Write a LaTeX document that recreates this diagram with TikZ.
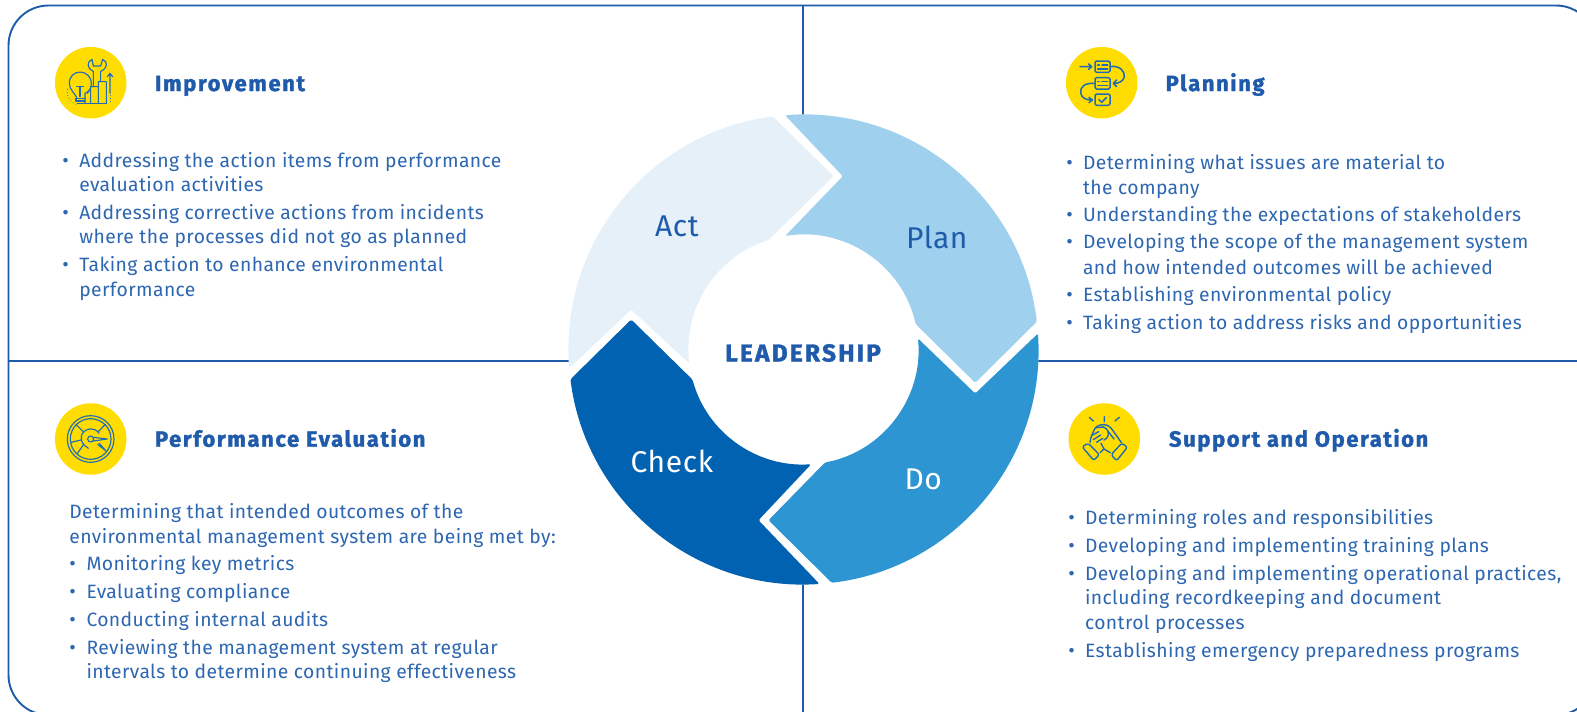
\documentclass[tikz,border=0pt]{standalone}
\usepackage{fontspec}
\setmainfont{Fira Sans}[LetterSpace=2.1,BoldFeatures={LetterSpace=7.2,FakeBold=1.5}]
\newfontfamily\leadf{Fira Sans}[LetterSpace=9,BoldFeatures={LetterSpace=9,FakeBold=1.5}]
\definecolor{tblue}{HTML}{2D66B1}
\definecolor{hblue}{HTML}{1F5BAA}
\definecolor{lineblue}{HTML}{1E5BAA}
\definecolor{iconblue}{HTML}{1F6CB4}
\definecolor{badgey}{HTML}{FFDD00}
\definecolor{actc}{HTML}{E6F0F8}
\definecolor{planc}{HTML}{9FD0ED}
\definecolor{doc}{HTML}{2E95D3}
\definecolor{checkc}{HTML}{0262B2}
\newcounter{tl}
\tikzset{
 txt/.style={anchor=base west,inner sep=0pt,outer sep=0pt,yshift=-0.7pt,text=tblue,font=\fontsize{19.3}{22}\selectfont},
 bul/.style={anchor=base,inner sep=0pt,outer sep=0pt,yshift=-0.7pt,text=tblue,font=\fontsize{20}{22}\selectfont},
 head/.style={anchor=base west,inner sep=0pt,outer sep=0pt,text=hblue,font=\fontsize{22}{24}\selectfont\bfseries},
 ringlab/.style={anchor=base west,inner sep=0pt,outer sep=0pt,yshift=-1.5pt,font=\fontsize{30}{32}\selectfont},
 badge/.style={circle,fill=badgey,draw=none,minimum size=71.5pt,inner sep=0pt},
 rule/.style={draw=lineblue,line width=1.9pt},
 ico/.style={draw=iconblue,line width=1.15pt,line cap=round,line join=round},
 icodot/.style={draw=iconblue,line width=1pt,line cap=round,dash pattern=on 0.1pt off 3pt},
 seg/.style={rounded corners=1.5pt},
}
\newcommand{\tline}[3]{\stepcounter{tl}\node[txt] (t\thetl) at (#1,#2) {#3};}
\newcommand{\bdot}[2]{\stepcounter{tl}\node[bul] (t\thetl) at (#1,#2) {•};}
\begin{document}
\begin{tikzpicture}[x=1pt,y=-1pt]
\useasboundingbox (0,0) rectangle (1577,712);
\clip (0,0) rectangle (1577,712);
\fill[white] (0,0) rectangle (1577,712);
% frame
\draw[rule,rounded corners=40pt] (8.5,5.5) rectangle (1596,715);
\draw[rule] (8.5,360.7) -- (1590,360.7);
\draw[rule] (803.3,5.5) -- (803.3,712);
% ring
\begin{scope}[shift={(803.5,349.5)},x=1pt,y=1pt]
\fill[white] (0,0) circle[radius=235pt];
\fill[actc,seg] (97.5:235) arc[start angle=97.5,end angle=184.6,radius=235pt] -- (-172.3,40) -- (187:115) arc[start angle=187,end angle=107.7,radius=115pt] -- (30,173.3) -- cycle;
\fill[planc,seg] (94.5:235) arc[start angle=94.5,end angle=6.8,radius=235pt] -- (171.7,-33.3) -- (12.8:115) arc[start angle=12.8,end angle=99.2,radius=115pt] -- (39.3,173.3) -- cycle;
\fill[doc,seg] (3.9:235) arc[start angle=3.9,end angle=-83.1,radius=235pt] -- (-35,-170.7) -- (-79.2:115) arc[start angle=-79.2,end angle=5.5,radius=115pt] -- (171.7,-44) -- cycle;
\fill[checkc,seg] (187.3:235) arc[start angle=187.3,end angle=273.9,radius=235pt] -- (-45,-170.7) -- (273.8:115) arc[start angle=273.8,end angle=195.2,radius=115pt] -- (-172.3,30) -- cycle;
\end{scope}
\node[ringlab,text=hblue] (act) at (655,235) {Act};
\node[ringlab,text=hblue] (plan) at (906,247.3) {Plan};
\node[ringlab,text=white] (do) at (904.5,487.7) {Do};
\node[ringlab,text=white] (check) at (630.5,471) {Check};
\node[anchor=base west,inner sep=0pt,text=hblue,yshift=-1.5pt,font=\leadf\fontsize{24.5}{26}\selectfont\bfseries] (leader) at (725,360) {LEADERSHIP};
% badges
\node[badge] (b1) at (90.7,82.7) {};
\node[badge] (b2) at (1101.7,82.7) {};
\node[badge] (b3) at (90.7,439) {};
\node[badge] (b4) at (1104.3,439) {};
% headings
\node[head] (h1) at (155,91) {Improvement};
\node[head] (h2) at (1165.6,91) {Planning};
\node[head] (h3) at (155,446.7) {Performance Evaluation};
\node[head] (h4) at (1169,446.7) {Support and Operation};
% Improvement icon
\begin{scope}[shift={(30,30)},x=0.33333pt,y=-0.33333pt]
\draw[ico] (140,203) .. controls (136,190) and (118,180) .. (118,160) .. controls (118,115) and (182,115) .. (184,160) .. controls (184,172) and (178,182) .. (172,190);
\draw[ico] (140,170) -- (160,170) (150,170) -- (150,200);
\draw[ico] (138,205) -- (165,205) (138,213) -- (165,213) (142,221) -- (165,221) (138,205) -- (138,213);
\draw[icodot] (112,178) arc[start angle=190,end angle=100,radius=40];
\draw[ico] (165,221) -- (230,221);
\draw[ico] (165,221) -- (165,190) -- (182,180) (182,221) -- (182,170) -- (205,170) -- (205,221) (205,155) -- (229,155) -- (229,221) (205,170) -- (205,155);
\draw[ico] (190,170) -- (190,124) .. controls (170,115) and (170,95) .. (186,88) -- (190,108) -- (212,108) -- (218,88) .. controls (234,95) and (234,115) .. (212,124) -- (212,155);
\draw[ico] (240,190) -- (240,132) (232,140) -- (240,130) -- (248,140);
\draw[icodot] (240,196) -- (240,218);
\end{scope}
% Planning icon
\begin{scope}[shift={(1040,30)},x=0.33333pt,y=-0.33333pt]
\tikzset{ico/.append style={line width=1.5pt}}
\draw[ico] (120,110) -- (155,110) (146,102) -- (155,110) -- (146,118);
\foreach \yy in {93,143,192}{\draw[ico,rounded corners=1.5pt] (165,\yy) rectangle (210,\yy+34);}
\draw[ico] (173,105) -- (178,105) (186,105) -- (203,105) (173,117) -- (203,117);
\draw[ico] (173,155) -- (178,155) (186,155) -- (203,155) (173,167) -- (203,167);
\draw[ico] (177,209) -- (185,217) -- (199,203);
\draw[ico] (210,110) .. controls (240,105) and (255,125) .. (253,140) .. controls (250,155) and (235,160) .. (222,160) (230,150) -- (220,160) -- (230,170);
\draw[ico] (165,160) .. controls (135,158) and (120,170) .. (122,188) .. controls (124,205) and (140,210) .. (155,210) (147,202) -- (157,210) -- (147,218);
\end{scope}
% Performance icon
\begin{scope}[shift={(30,385)},x=0.33333pt,y=-0.33333pt]
\draw[ico] (182,162) circle[radius=70];
\draw[ico] (182,162) circle[radius=61];
\draw[ico] (182,162) circle[radius=9];
\draw[ico] (207,145) .. controls (195,125) and (165,128) .. (155,150) .. controls (150,170) and (160,180) .. (175,190);
\draw[ico] (190,157) -- (232,162) -- (190,168);
\draw[ico] (138,118) -- (160,140) (226,118) -- (205,140);
\draw[ico] (123,172) -- (153,165) (142,205) -- (160,180);
\draw[ico] (208,175) -- (228,198) (203,178) -- (228,198);
\end{scope}
% Support icon
\begin{scope}[shift={(1040,385)},x=0.33333pt,y=-0.33333pt]
\tikzset{ico/.append style={line width=1.4pt}}
\draw[ico] (148,97) -- (160,108) (193,95) -- (193,110) (238,97) -- (225,108);
\draw[ico,rounded corners=2pt] (127,186) -- (144,174) -- (178,209) -- (161,226) -- cycle;
\draw[ico,rounded corners=2pt] (262,187) -- (246,174) -- (213,209) -- (230,227) -- cycle;
\draw[ico] (150,172) .. controls (152,160) and (155,150) .. (160,140) .. controls (165,125) and (178,118) .. (192,119) .. controls (208,118) and (218,135) .. (228,150) .. controls (236,160) and (240,168) .. (245,174);
\draw[ico] (180,203) -- (192,192) -- (211,203);
\draw[ico] (154,152) -- (176,140) (160,164) -- (182,150) (170,172) -- (188,160) (166,128) -- (190,126);
\draw[ico] (190,126) .. controls (205,130) and (210,148) .. (200,160) -- (192,165);
\draw[ico] (205,140) -- (222,162) (192,192) -- (183,175);
\end{scope}
% Improvement list
\bdot{65.5}{166.5}
\tline{79.3}{166.7}{Addressing the action items from performance}
\tline{79.3}{191}{evaluation activities}
\bdot{65.5}{218.5}
\tline{79.3}{219}{Addressing corrective actions from incidents}
\tline{79.3}{242.7}{where the processes did not go as planned}
\bdot{65.5}{270.5}
\tline{79.3}{270.7}{Taking action to enhance environmental}
\tline{79.3}{295.5}{performance}
% Planning list
\bdot{1069.5}{168.5}
\tline{1083}{168.6}{Determining what issues are material to}
\tline{1083}{193.8}{the company}
\bdot{1069.5}{220.5}
\tline{1083}{220.9}{Understanding the expectations of stakeholders}
\bdot{1069.5}{247.5}
\tline{1083}{248}{Developing the scope of the management system}
\tline{1083}{274.2}{and how intended outcomes will be achieved}
\bdot{1069.5}{300.5}
\tline{1083}{300.4}{Establishing environmental policy}
\bdot{1069.5}{328.5}
\tline{1083}{328.5}{Taking action to address risks and opportunities}
% Performance list
\tline{69.4}{517.6}{Determining that intended outcomes of the}
\tline{69.4}{542.7}{environmental management system are being met by:}
\bdot{72.5}{569.5}
\tline{86.5}{569.9}{Monitoring key metrics}
\bdot{72.5}{597.5}
\tline{86.5}{598}{Evaluating compliance}
\bdot{72.5}{625.5}
\tline{86.5}{626.2}{Conducting internal audits}
\bdot{72.5}{653.5}
\tline{86.5}{653.4}{Reviewing the management system at regular}
\tline{86.5}{677.5}{intervals to determine continuing effectiveness}
% Support list
\bdot{1071.7}{523.5}
\tline{1085}{524}{Determining roles and responsibilities}
\bdot{1071.7}{551.5}
\tline{1085}{552}{Developing and implementing training plans}
\bdot{1071.7}{579.5}
\tline{1085}{580}{Developing and implementing operational practices,}
\tline{1085}{604}{including recordkeeping and document}
\tline{1085}{629}{control processes}
\bdot{1071.7}{656.5}
\tline{1085}{656.7}{Establishing emergency preparedness programs}
\end{tikzpicture}
\end{document}
